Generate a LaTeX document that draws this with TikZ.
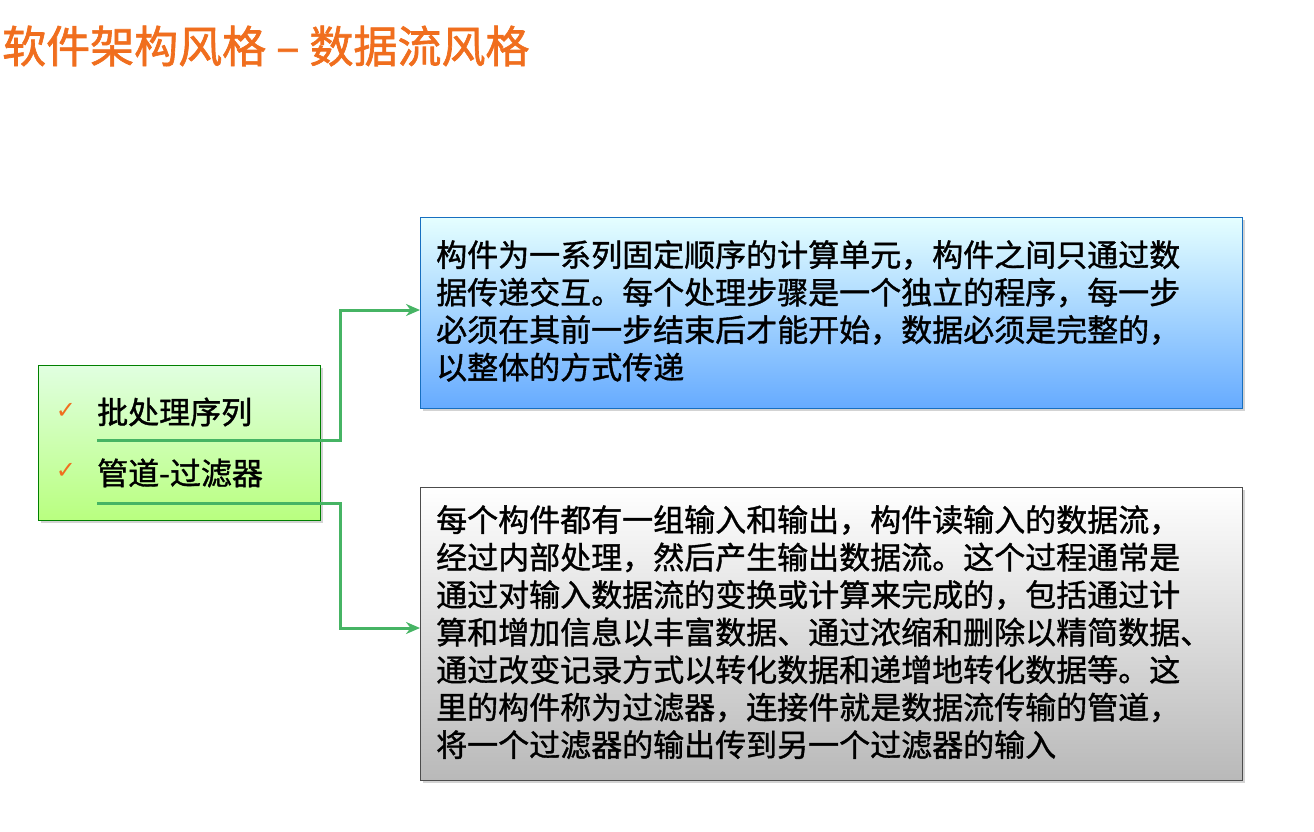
\documentclass[tikz,border=0pt]{standalone}
\usepackage{fontspec}
\newfontfamily\cjk[FakeBold=1.2]{Noto Sans CJK SC}
\newfontfamily\cjkt[FakeBold=1.5]{Noto Sans CJK SC}
\newfontfamily\dejav{DejaVu Sans}
\usetikzlibrary{shadows,arrows.meta}
\definecolor{ttl}{RGB}{240,110,30}
\definecolor{gline}{RGB}{70,180,100}
\tikzset{
 boxst/.style={draw=#1!60!black,line width=1pt,drop shadow={opacity=0.35,shadow xshift=3pt,shadow yshift=-3pt}},
 body/.style={anchor=north west,align=left,font=\cjk\fontsize{31}{37.5}\selectfont,inner sep=0pt},
 conn/.style={gline,line width=3pt,-{Stealth[length=14pt,width=12pt]}},
}
\begin{document}
\begin{tikzpicture}[x=1pt,y=-1pt]
\useasboundingbox (0,0) rectangle (1314,832);
\node[anchor=west,text=ttl,font=\cjkt\fontsize{44}{46}\selectfont,inner sep=0pt] (title) at (2,46) {软件架构风格 – 数据流风格};
% left box
\path[boxst=green,top color=green!12,bottom color=green!40!lime!50,draw=green!50!black] (38,365) rectangle (320,520);
\node[anchor=west,font=\cjk\fontsize{31}{32}\selectfont,inner sep=0pt] (i1) at (97,412) {批处理序列};
\node[anchor=west,font=\cjk\fontsize{31}{32}\selectfont,inner sep=0pt] (i2) at (97,473) {管道-过滤器};
\node[text=ttl,font=\dejav\fontsize{24}{24}\selectfont] (c1) at (66,411) {✓};
\node[text=ttl,font=\dejav\fontsize{24}{24}\selectfont] (c2) at (66,471) {✓};
% top box
\path[boxst=cyan,top color=cyan!10,bottom color=cyan!45!blue!60,draw=cyan!50!blue] (420,217) rectangle (1242,408);
\coordinate (tb) at (420,310);
\node[body] (t1) at (436,240) {构件为一系列固定顺序的计算单元，构件之间只通过数\\据传递交互。每个处理步骤是一个独立的程序，每一步\\必须在其前一步结束后才能开始，数据必须是完整的，\\以整体的方式传递};
% bottom box
\path[boxst=gray,top color=white,bottom color=gray!55,draw=gray!60!black] (420,487) rectangle (1242,780);
\coordinate (bb) at (420,628);
\node[body] (t2) at (436,505) {每个构件都有一组输入和输出，构件读输入的数据流，\\经过内部处理，然后产生输出数据流。这个过程通常是\\通过对输入数据流的变换或计算来完成的，包括通过计\\算和增加信息以丰富数据、通过浓缩和删除以精简数据、\\通过改变记录方式以转化数据和递增地转化数据等。这\\里的构件称为过滤器，连接件就是数据流传输的管道，\\将一个过滤器的输出传到另一个过滤器的输入};
% connectors
\draw[conn] (i1.west |- 0,440) -- (340,440) -- (340,310) -- (tb);
\draw[conn] (i2.west |- 0,503) -- (340,503) -- (340,628) -- (bb);
\end{tikzpicture}
\end{document}
